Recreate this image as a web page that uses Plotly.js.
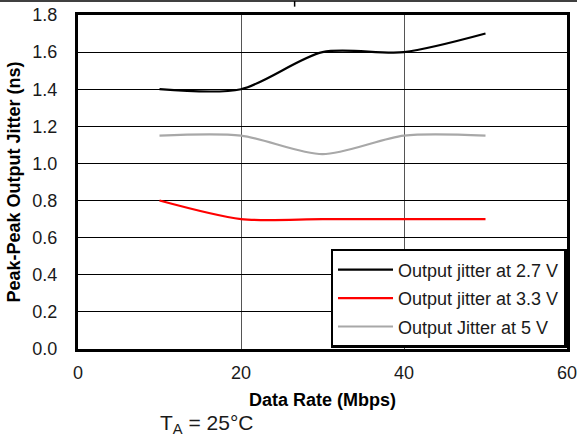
<!DOCTYPE html>
<html>
<head>
<meta charset="utf-8">
<script src="https://cdn.plot.ly/plotly-3.0.1.min.js"></script>
<style>html,body{margin:0;padding:0;background:#fff;}#chart{width:577px;height:440px;}</style>
</head>
<body>
<div id="chart"></div>
<script>
const dataRate = [10, 20, 30, 40, 50];
const jitter27 = [1.40, 1.40, 1.60, 1.60, 1.70];
const jitter33 = [0.80, 0.70, 0.70, 0.70, 0.70];
const jitter50 = [1.15, 1.15, 1.05, 1.15, 1.15];
const seriesNames = ['Output jitter at 2.7 V', 'Output jitter at 3.3 V', 'Output Jitter at 5 V'];
const xTicks = [0, 20, 40, 60];
const yTicks = [0, 0.2, 0.4, 0.6, 0.8, 1.0, 1.2, 1.4, 1.6, 1.8];

const font = 'Arial, "Liberation Sans", sans-serif';
function tr(y, name, color, g) {
  return {x: dataRate, y: y, name: name, type: 'scatter', mode: 'lines', legendgroup: g,
    line: {color: color, width: 2.2, shape: 'spline', smoothing: 0.8}};
}
const traces = [
  tr(jitter27, seriesNames[0], '#000000', 'a'),
  tr(jitter33, seriesNames[1], '#ff0000', 'b'),
  tr(jitter50, seriesNames[2], '#a8a8a8', 'c')
];
const layout = {
  width: 577, height: 440,
  margin: {l: 78, r: 10, t: 15, b: 91},
  paper_bgcolor: '#fff', plot_bgcolor: '#fff',
  font: {family: font, size: 18, color: '#1a1a1a'},
  showlegend: true,
  legend: {x: 0.999, xanchor: 'right', y: 0.003, yanchor: 'bottom', bgcolor: '#fff',
    bordercolor: '#000', borderwidth: 2.5, font: {family: font, size: 18, color: '#1a1a1a'},
    tracegroupgap: 2, itemwidth: 55},
  xaxis: {range: [0, 60], tickvals: xTicks, ticktext: xTicks.map(String), showgrid: true,
    gridcolor: '#555', gridwidth: 1, zeroline: false, showline: true, linecolor: '#000',
    linewidth: 3, mirror: true, ticks: '', ticklabelstandoff: 5, ticklabeloverflow: 'allow',
    title: {text: '<b>Data Rate (Mbps)</b>', font: {family: font, size: 18, color: '#000'}, standoff: 12}},
  yaxis: {range: [0, 1.8], tickvals: yTicks, tickformat: '.1f', showgrid: true,
    gridcolor: '#000', gridwidth: 1, zeroline: false, showline: true, linecolor: '#000',
    linewidth: 3, mirror: true, ticks: '', ticklabelstandoff: 14,
    title: {text: '<b>Peak-Peak Output Jitter (ns)</b>', font: {family: font, size: 18, color: '#000'}, standoff: 8}},
  annotations: [{text: 'T<sub>A</sub> = 25°C', xref: 'paper', yref: 'paper', x: 0.263, y: -0.18,
    xanchor: 'center', yanchor: 'top', showarrow: false, font: {family: font, size: 21, color: '#1a1a1a'}}],
  shapes: [
    {type: 'line', xref: 'paper', yref: 'paper', x0: -0.2, x1: 1.05, y0: 1.042, y1: 1.042, line: {color: '#000', width: 1.5}},
    {type: 'line', xref: 'paper', yref: 'paper', x0: 0.443, x1: 0.443, y0: 1.042, y1: 1.025, line: {color: '#000', width: 1.5}}
  ]
};
Plotly.newPlot('chart', traces, layout, {displayModeBar: false, staticPlot: true});
</script>
</body>
</html>
